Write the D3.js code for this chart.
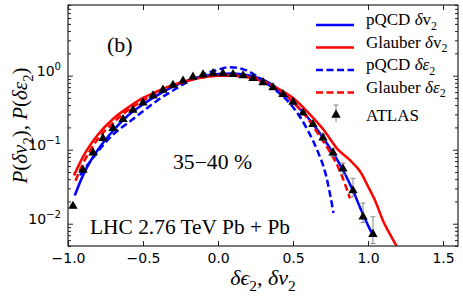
<!DOCTYPE html>
<html>
<head>
<meta charset="utf-8">
<script src="https://cdn.jsdelivr.net/npm/d3@7"></script>
<style>
  body { margin: 0; background: #fff; }
</style>
</head>
<body>
<div id="chart"></div>
<script>
// ATLAS points (35-40 %)
var atlasX = [-0.967, -0.9, -0.833, -0.767, -0.7, -0.633, -0.567, -0.5, -0.433, -0.367,
              -0.3, -0.233, -0.167, -0.1, -0.033, 0.033, 0.1, 0.167, 0.233, 0.3,
              0.367, 0.433, 0.5, 0.567, 0.633, 0.7, 0.767, 0.833, 0.9, 0.967, 1.033];
var atlasY = [0.0173, 0.053, 0.091, 0.142, 0.194, 0.257, 0.343, 0.43, 0.535, 0.64,
              0.746, 0.85, 0.96, 1.03, 1.07, 1.07, 1.04, 1.0, 0.92, 0.81,
              0.69, 0.56, 0.44, 0.315, 0.22, 0.145, 0.091, 0.055, 0.028, 0.0124, 0.0072];
var atlasErrUp = [0.001, 0.002, 0.003, 0.004, 0.005, 0.006, 0.007, 0.008, 0.009, 0.01,
                  0.01, 0.01, 0.01, 0.01, 0.01, 0.01, 0.01, 0.01, 0.01, 0.01,
                  0.01, 0.01, 0.01, 0.01, 0.01, 0.015, 0.012, 0.011, 0.013, 0.0066, 0.0052];
var atlasErrDown = [0.001, 0.002, 0.003, 0.004, 0.005, 0.006, 0.007, 0.008, 0.009, 0.01,
                    0.01, 0.01, 0.01, 0.01, 0.01, 0.01, 0.01, 0.01, 0.01, 0.01,
                    0.01, 0.01, 0.01, 0.01, 0.01, 0.012, 0.01, 0.009, 0.005, 0.002, 0.0018];

// model curves
var pqcdV2X = [-0.955, -0.9, -0.85, -0.8, -0.7, -0.6, -0.5, -0.4, -0.3, -0.2, -0.1, 0, 0.1,
               0.2, 0.3, 0.4, 0.5, 0.6, 0.7, 0.8, 0.9, 0.95, 1.0, 1.03];
var pqcdV2Y = [0.024, 0.045, 0.07, 0.1, 0.18, 0.29, 0.41, 0.55, 0.71, 0.86, 0.98, 1.05, 1.07,
               1.01, 0.88, 0.66, 0.44, 0.27, 0.145, 0.07, 0.028, 0.016, 0.0095, 0.0072];

var glauberV2X = [-0.96, -0.9, -0.8, -0.7, -0.6, -0.5, -0.4, -0.3, -0.2, -0.1, 0, 0.1, 0.2,
                  0.3, 0.4, 0.5, 0.6, 0.7, 0.8, 0.88, 0.95, 1.0, 1.05, 1.1, 1.15, 1.19];
var glauberV2Y = [0.045, 0.08, 0.16, 0.26, 0.37, 0.5, 0.62, 0.75, 0.86, 0.95, 1.0, 1.0, 0.95,
                  0.83, 0.67, 0.5, 0.32, 0.19, 0.1, 0.072, 0.05, 0.032, 0.02, 0.011, 0.007, 0.005];

var pqcdE2X = [-0.92, -0.85, -0.8, -0.7, -0.6, -0.5, -0.4, -0.3, -0.2, -0.1, 0, 0.07, 0.15,
               0.22, 0.3, 0.4, 0.48, 0.55, 0.6, 0.66, 0.72, 0.77];
var pqcdE2Y = [0.045, 0.07, 0.095, 0.16, 0.23, 0.33, 0.47, 0.63, 0.83, 1.03, 1.2, 1.3, 1.25,
               1.1, 0.85, 0.6, 0.42, 0.27, 0.18, 0.1, 0.045, 0.014];

var glauberE2X = [-0.95, -0.9, -0.8, -0.7, -0.6, -0.5, -0.4, -0.3, -0.2, -0.1, 0, 0.1, 0.2,
                  0.3, 0.4, 0.5, 0.6, 0.68, 0.74, 0.81, 0.88];
var glauberE2Y = [0.038, 0.065, 0.14, 0.23, 0.34, 0.46, 0.6, 0.73, 0.85, 0.95, 1.02, 1.03, 0.97,
                  0.85, 0.65, 0.44, 0.26, 0.15, 0.098, 0.053, 0.022];

var xTicks = [-1.0, -0.5, 0.0, 0.5, 1.0, 1.5];
var yTicks = [0.01, 0.1, 1];
var yTickExp = ['\u22122', '\u22121', '0'];

var series = [
  { x: pqcdV2X, y: pqcdV2Y, color: '#0000ff', dash: null,
    label: [{ t: 'pQCD ' }, { t: '\u03b4', i: true }, { t: 'v' }, { t: '2', s: 'sub' }] },
  { x: glauberV2X, y: glauberV2Y, color: '#ff0000', dash: null,
    label: [{ t: 'Glauber ' }, { t: '\u03b4', i: true }, { t: 'v' }, { t: '2', s: 'sub' }] },
  { x: pqcdE2X, y: pqcdE2Y, color: '#0000ff', dash: '7,3.5',
    label: [{ t: 'pQCD ' }, { t: '\u03b4\u03b5', i: true }, { t: '2', s: 'sub' }] },
  { x: glauberE2X, y: glauberE2Y, color: '#ff0000', dash: '7,3.5',
    label: [{ t: 'Glauber ' }, { t: '\u03b4\u03b5', i: true }, { t: '2', s: 'sub' }] }
];

var serif = '"Liberation Serif", "DejaVu Serif", serif';
var sans = '"DejaVu Sans", sans-serif';

var margin = { top: 5, right: 5, bottom: 52, left: 68 };
var width = 463 - margin.left - margin.right;
var height = 298 - margin.top - margin.bottom;

var x = d3.scaleLinear().domain([-1.0, 1.6]).range([0, width]);
var y = d3.scaleLog().domain([0.005, 9]).range([height, 0]);

// minor log ticks 2..9 for each decade in range
var yMinor = [];
[0.001, 0.01, 0.1, 1].forEach(function (dec) {
  for (var m = 2; m <= 9; m++) {
    var v = +(dec * m).toPrecision(3);
    if (v >= 0.005 && v <= 9) yMinor.push(v);
  }
});

// text with italic parts and sub/superscripts
var rich = function (text, parts, fs) {
  var shift = 0;
  parts.forEach(function (p) {
    var target = p.s === 'sub' ? fs * 0.28 : p.s === 'sup' ? -fs * 0.42 : 0;
    var ts = text.append('tspan').attr('dy', target - shift).text(p.t);
    shift = target;
    if (p.s) ts.style('font-size', (fs * 0.7) + 'px');
    if (p.i) ts.style('font-style', 'italic');
  });
};

var svg = d3.select('#chart').append('svg')
    .attr('width', 463)
    .attr('height', 298);

svg.append('defs').append('clipPath').attr('id', 'plot-clip')
  .append('rect').attr('width', width).attr('height', height);

var chartArea = svg.append('g')
    .attr('transform', 'translate(' + margin.left + ',' + margin.top + ')');

var styleAxis = function (g) {
  g.select('.domain').remove();
  g.selectAll('line').style('stroke', '#222').style('stroke-width', 1);
  g.selectAll('text').style('font', '14px ' + sans).style('fill', '#000');
};

// bottom / top
chartArea.append('g')
    .attr('transform', 'translate(0,' + height + ')')
    .call(d3.axisBottom(x).tickValues(xTicks).tickFormat(d3.format('.1f'))
      .tickSizeInner(-5).tickSizeOuter(0).tickPadding(7))
    .call(styleAxis);
chartArea.append('g')
    .call(d3.axisTop(x).tickValues(xTicks).tickFormat('')
      .tickSizeInner(-5).tickSizeOuter(0))
    .call(styleAxis);

// left / right, major and minor
var yLeft = chartArea.append('g')
    .call(d3.axisLeft(y).tickValues(yTicks).tickFormat(function () { return ''; })
      .tickSizeInner(-5).tickSizeOuter(0).tickPadding(7))
    .call(styleAxis);
yLeft.selectAll('.tick text')
    .attr('dy', '0.32em')
    .each(function (d, i) {
      rich(d3.select(this), [{ t: '10' }, { t: yTickExp[i], s: 'sup' }], 14.5);
    });
chartArea.append('g')
    .call(d3.axisLeft(y).tickValues(yMinor).tickFormat('').tickSizeInner(-3).tickSizeOuter(0))
    .call(styleAxis);
chartArea.append('g')
    .attr('transform', 'translate(' + width + ',0)')
    .call(d3.axisRight(y).tickValues(yTicks).tickFormat('').tickSizeInner(-5).tickSizeOuter(0))
    .call(styleAxis);
chartArea.append('g')
    .attr('transform', 'translate(' + width + ',0)')
    .call(d3.axisRight(y).tickValues(yMinor).tickFormat('').tickSizeInner(-3).tickSizeOuter(0))
    .call(styleAxis);

// curves
var line = d3.line()
    .x(function (d) { return x(d[0]); })
    .y(function (d) { return y(d[1]); })
    .curve(d3.curveMonotoneX);

var curves = chartArea.append('g').attr('clip-path', 'url(#plot-clip)');
series.forEach(function (s) {
  curves.append('path')
      .datum(s.x.map(function (v, i) { return [v, s.y[i]]; }))
      .attr('d', line)
      .style('fill', 'none')
      .style('stroke', s.color)
      .style('stroke-width', 2.5)
      .style('stroke-dasharray', s.dash);
});

// ATLAS with error bars
var atlas = atlasX.map(function (v, i) {
  return { x: v, y: atlasY[i], up: atlasErrUp[i], down: atlasErrDown[i] };
});
var tri = d3.symbol().type(d3.symbolTriangle).size(38);

var pts = chartArea.append('g').selectAll('g')
    .data(atlas)
  .enter().append('g')
    .attr('transform', function (d) { return 'translate(' + x(d.x) + ',' + y(d.y) + ')'; });

var errTop = function (d) { return y(d.y + d.up) - y(d.y); };
var errBot = function (d) { return y(Math.max(d.y - d.down, 0.004)) - y(d.y); };

pts.append('line')
    .attr('y1', errTop).attr('y2', errBot)
    .style('stroke', '#888').style('stroke-width', 1);
pts.append('line')
    .attr('x1', -2.5).attr('x2', 2.5)
    .attr('y1', errTop).attr('y2', errTop)
    .style('stroke', '#888').style('stroke-width', 1);
pts.append('line')
    .attr('x1', -2.5).attr('x2', 2.5)
    .attr('y1', errBot).attr('y2', errBot)
    .style('stroke', '#888').style('stroke-width', 1);
pts.append('path')
    .attr('d', tri)
    .style('fill', '#000');

// frame
chartArea.append('rect')
    .attr('width', width).attr('height', height)
    .style('fill', 'none').style('stroke', '#222').style('stroke-width', 1.2);

// annotations
chartArea.append('text')
    .attr('x', 39).attr('y', 47)
    .style('font', '22px ' + serif)
    .text('(b)');
chartArea.append('text')
    .attr('x', 105).attr('y', 164)
    .attr('textLength', 79).attr('lengthAdjust', 'spacingAndGlyphs')
    .style('font', '20px ' + serif)
    .text('35\u221240 %');
chartArea.append('text')
    .attr('x', 22).attr('y', 229)
    .attr('textLength', 200).attr('lengthAdjust', 'spacingAndGlyphs')
    .style('font', '20px ' + serif)
    .text('LHC 2.76 TeV Pb + Pb');

// legend
var legend = chartArea.append('g').attr('transform', 'translate(248,20)');
series.forEach(function (s, i) {
  var row = legend.append('g').attr('transform', 'translate(0,' + (i * 22.5) + ')');
  row.append('line')
      .attr('x1', 0).attr('x2', 38)
      .style('stroke', s.color).style('stroke-width', 2.5)
      .style('stroke-dasharray', s.dash);
  var t = row.append('text')
      .attr('x', 50).attr('dy', '0.35em')
      .style('font', '17px ' + serif);
  rich(t, s.label, 17);
});
var atlasRow = legend.append('g').attr('transform', 'translate(0,' + (4 * 22.5) + ')');
atlasRow.append('line')
    .attr('x1', 20).attr('x2', 20).attr('y1', -10).attr('y2', 7)
    .style('stroke', '#888').style('stroke-width', 1);
atlasRow.append('line')
    .attr('x1', 17.5).attr('x2', 22.5).attr('y1', -10).attr('y2', -10)
    .style('stroke', '#888').style('stroke-width', 1);
atlasRow.append('path')
    .attr('transform', 'translate(20,0)')
    .attr('d', tri)
    .style('fill', '#000');
atlasRow.append('text')
    .attr('x', 50).attr('dy', '0.35em')
    .style('font', '17px ' + serif)
    .text('ATLAS');

// axis labels
var yLabel = svg.append('text')
    .attr('transform', 'translate(27,' + (margin.top + height / 2) + ') rotate(-90)')
    .style('text-anchor', 'middle')
    .style('font', '21px ' + serif);
rich(yLabel, [{ t: 'P', i: true }, { t: '(' }, { t: '\u03b4v', i: true }, { t: '2', s: 'sub' },
              { t: '), ' }, { t: 'P', i: true }, { t: '(' }, { t: '\u03b4\u03b5', i: true },
              { t: '2', s: 'sub' }, { t: ')' }], 21);

var xLabel = svg.append('text')
    .attr('x', margin.left + width / 2).attr('y', 285)
    .style('text-anchor', 'middle')
    .style('font', '22px ' + serif);
rich(xLabel, [{ t: '\u03b4\u03f5', i: true }, { t: '2', s: 'sub' }, { t: ', ' },
              { t: '\u03b4v', i: true }, { t: '2', s: 'sub' }], 22);
</script>
</body>
</html>
